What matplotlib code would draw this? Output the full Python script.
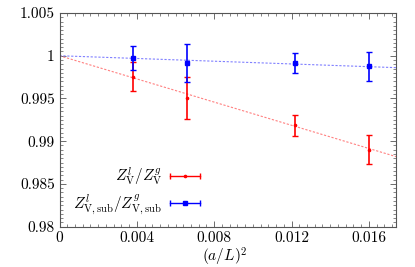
import matplotlib
matplotlib.use("Agg")
import matplotlib.pyplot as plt
import numpy as np
from matplotlib.ticker import MultipleLocator, FixedLocator
from matplotlib.legend_handler import HandlerBase
from matplotlib.lines import Line2D

plt.rcParams['font.family'] = 'serif'
plt.rcParams['font.serif'] = ['cmr10']
plt.rcParams['mathtext.fontset'] = 'cm'
plt.rcParams['axes.formatter.use_mathtext'] = True

x_vals = [0.0038, 0.0066, 0.0122, 0.0160]
red_y = [0.99755, 0.99505, 0.99185, 0.98898]
red_err = [0.00172, 0.00245, 0.00120, 0.00170]
blue_y = [0.99975, 0.99912, 0.99915, 0.99877]
blue_err = [0.00140, 0.00220, 0.00113, 0.00171]
red_fit = [1.0, -0.678]
blue_fit = [1.0, -0.080]
xticks = [0, 0.004, 0.008, 0.012, 0.016]
xticklabels = ['0', '0.004', '0.008', '0.012', '0.016']
yticks = [0.98, 0.985, 0.99, 0.995, 1.0, 1.005]
yticklabels = ['0.98', '0.985', '0.99', '0.995', '1', '1.005']


class HErrHandler(HandlerBase):
    def __init__(self, color, marker, ms):
        super().__init__()
        self.color = color
        self.marker = marker
        self.ms = ms

    def create_artists(self, legend, orig_handle, xdescent, ydescent, width,
                       height, fontsize, trans):
        y = height / 2 - ydescent
        x0, x1 = -xdescent, -xdescent + width
        line = Line2D([x0, x1], [y, y], color=self.color, lw=1.0,
                      transform=trans)
        caps = Line2D([x0, x1], [y, y], color=self.color, lw=0, marker='|',
                      ms=4, mew=1.0, transform=trans)
        mid = Line2D([(x0 + x1) / 2], [y], color=self.color, lw=0,
                     marker=self.marker, ms=self.ms, transform=trans)
        return [line, caps, mid]


fig = plt.figure(figsize=(4.15, 2.67), dpi=100)
ax = fig.add_axes([0.1434, 0.151, 0.8106, 0.8003])

xl = np.array([0, 0.0174])
ax.plot(xl, red_fit[0] + red_fit[1] * xl, color='#ff8080', lw=0.8, ls=(0, (2, 1.5)))
ax.plot(xl, blue_fit[0] + blue_fit[1] * xl, color='#8080ff', lw=0.8, ls=(0, (2, 1.5)))

r = ax.errorbar(x_vals, red_y, yerr=red_err, fmt='o', color='#ff0000', ms=1.6,
                elinewidth=1.2, capsize=2.2, capthick=1.0)
b = ax.errorbar(x_vals, blue_y, yerr=blue_err, fmt='s', color='#0000ff', ms=2.2,
                elinewidth=1.2, capsize=2.2, capthick=1.0)

ax.set_xlim(0, 0.0174)
ax.set_ylim(0.98, 1.005)
ax.xaxis.set_major_locator(FixedLocator(xticks))
ax.set_xticklabels(xticklabels)
ax.xaxis.set_minor_locator(MultipleLocator(0.0004))
ax.yaxis.set_major_locator(FixedLocator(yticks))
ax.set_yticklabels(yticklabels)
ax.yaxis.set_minor_locator(MultipleLocator(0.0005))
ax.tick_params(which='both', direction='in', top=True, right=True, labelsize=11,
               color='#555555')
ax.tick_params(which='major', length=4, width=0.6)
ax.tick_params(which='minor', length=2, width=0.5)
ax.tick_params(axis='x', pad=3)
for s in ax.spines.values():
    s.set_color('#555555')
    s.set_linewidth(0.8)

ax.set_xlabel(r'$(a/L)^2$', fontsize=11)
ax.xaxis.set_label_coords(0.492, -0.088)

h1 = Line2D([], [], color='red')
h2 = Line2D([], [], color='blue')
leg = ax.legend([h1, h2], [r'$Z^l_{\rm V}/Z^g_{\rm V}$',
                           r'$Z^l_{\rm V,sub}/Z^g_{\rm V,sub}$'],
                handler_map={h1: HErrHandler('#ff0000', 'o', 1.6),
                             h2: HErrHandler('#0000ff', 's', 2.2)},
                loc='lower left', bbox_to_anchor=(0.0, -0.02), frameon=False,
                markerfirst=False, fontsize=11, handlelength=2.0,
                handletextpad=0.5, labelspacing=0.35)

fig.savefig('out.png', dpi=100)
